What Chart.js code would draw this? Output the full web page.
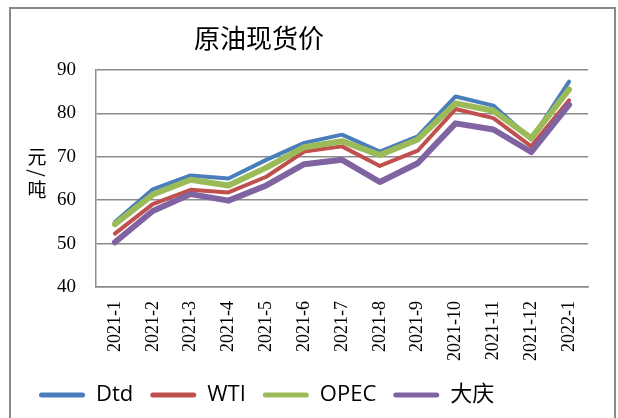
<!DOCTYPE html>
<html>
<head>
<meta charset="utf-8">
<script src="https://cdn.jsdelivr.net/npm/chart.js@4/dist/chart.umd.min.js"></script>
<style>
html,body{margin:0;padding:0;background:#fff;}
#wrap{position:relative;width:618px;height:418px;}
</style>
</head>
<body>
<div id="wrap"><canvas id="c" width="618" height="418"></canvas></div>
<script>
const titleText = '原油现货价';
const yAxisTitle = ['元', '/', '吨'];
const categories = ['2021-1','2021-2','2021-3','2021-4','2021-5','2021-6','2021-7','2021-8','2021-9','2021-10','2021-11','2021-12','2022-1'];
const dtd   = [55.0, 62.5, 65.7, 65.0, 69.3, 73.2, 75.1, 71.2, 74.7, 83.9, 81.8, 74.0, 87.3];
const wti   = [52.3, 59.1, 62.4, 61.8, 65.4, 71.2, 72.4, 67.9, 71.4, 81.0, 78.9, 72.4, 83.0];
const opec  = [54.5, 61.3, 64.7, 63.4, 67.5, 72.2, 73.6, 70.4, 74.0, 82.3, 80.6, 74.3, 85.5];
const daqing= [50.3, 57.5, 61.4, 59.9, 63.4, 68.3, 69.3, 64.2, 68.5, 77.7, 76.3, 71.1, 82.0];
const seriesNames = ['Dtd', 'WTI', 'OPEC', '大庆'];
const yTicks = {min: 40, max: 90, step: 10};

const colors = ['#4A7EBB', '#C0504D', '#9BBB59', '#8064A2'];
const widths = [4, 4, 6, 6];
const seriesData = [dtd, wti, opec, daqing];

const decorPlugin = {
  id: 'decor',
  beforeDraw(chart) {
    const ctx = chart.ctx;
    ctx.save();
    ctx.fillStyle = '#fff';
    ctx.fillRect(0, 0, chart.width, chart.height);
    ctx.strokeStyle = '#8a8a8a';
    ctx.lineWidth = 2;
    ctx.strokeRect(10, 8, 605, 430);
    ctx.restore();
  },
  afterDraw(chart) {
    const ctx = chart.ctx;
    ctx.save();
    ctx.fillStyle = '#000';
    ctx.textAlign = 'center';
    ctx.textBaseline = 'middle';
    ctx.font = '26px "Noto Sans CJK SC", sans-serif';
    ctx.fillText(titleText, 259, 38);
    ctx.font = '19px "Noto Sans CJK SC", sans-serif';
    ctx.fillText(yAxisTitle[0], 37, 157);
    ctx.save();
    ctx.translate(37, 173);
    ctx.rotate(Math.PI / 2);
    ctx.fillText(yAxisTitle[1], 0, 0);
    ctx.restore();
    ctx.fillText(yAxisTitle[2], 37, 190);
    ctx.restore();
  }
};

new Chart(document.getElementById('c'), {
  type: 'line',
  data: {
    labels: categories,
    datasets: seriesNames.map((n, i) => ({
      label: n,
      data: seriesData[i],
      borderColor: colors[i],
      backgroundColor: colors[i],
      borderWidth: widths[i],
      pointRadius: 0,
      tension: 0,
      borderCapStyle: 'round',
      borderJoinStyle: 'round',
      order: 4 - i
    }))
  },
  options: {
    responsive: false,
    animation: false,
    devicePixelRatio: 1,
    layout: {padding: {left: 22, right: 30, top: 70, bottom: 2}},
    scales: {
      x: {
        offset: true,
        grid: {display: false, drawTicks: false},
        border: {display: true, color: '#8c8c8c', width: 1.5},
        ticks: {
          maxRotation: 90, minRotation: 90, autoSkip: false, padding: 14,
          color: '#000',
          font: {family: '"Liberation Serif", "Times New Roman", serif', size: 18}
        },
        afterFit(s) { s.height = 80; }
      },
      y: {
        min: yTicks.min, max: yTicks.max,
        grid: {color: '#8c8c8c', lineWidth: 1.5, drawTicks: false},
        border: {display: true, color: '#8c8c8c', width: 1.5},
        ticks: {
          stepSize: yTicks.step, padding: 20, color: '#000',
          font: {family: '"Liberation Serif", "Times New Roman", serif', size: 19}
        },
        afterFit(s) { s.width = 74; }
      }
    },
    plugins: {
      title: {display: false},
      tooltip: {enabled: false},
      legend: {
        position: 'bottom',
        align: 'start',
        labels: {
          boxWidth: 46,
          boxHeight: 5,
          padding: 17,
          color: '#000',
          font: {family: '"Open Sans", "Noto Sans CJK SC", sans-serif', size: 22},
          sort: (a, b) => a.datasetIndex - b.datasetIndex,
          generateLabels(chart) {
            return chart.data.datasets.map((d, i) => ({
              text: d.label,
              fillStyle: d.borderColor,
              strokeStyle: d.borderColor,
              lineWidth: 0,
              borderRadius: 2.5,
              fontColor: '#000',
              datasetIndex: i,
              hidden: false
            }));
          }
        }
      }
    }
  },
  plugins: [decorPlugin]
});
</script>
</body>
</html>
